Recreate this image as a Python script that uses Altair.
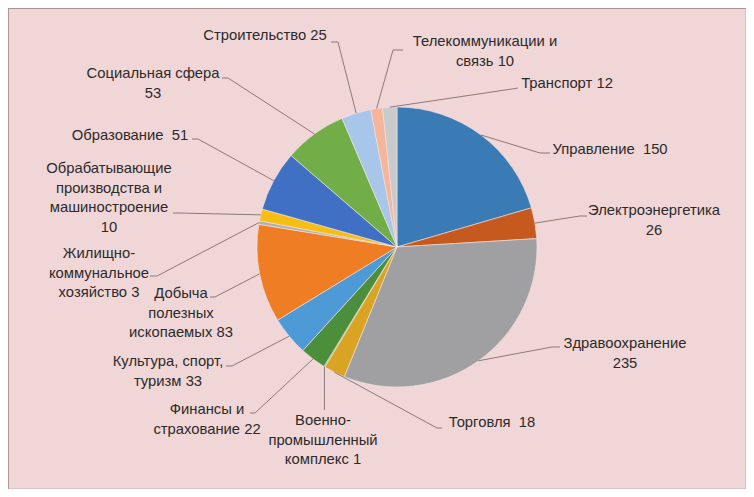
import math
import altair as alt
import pandas as pd

# ---------------- data ----------------
categories = [
    "Управление", "Электроэнергетика", "Здравоохранение", "Торговля",
    "Военно-промышленный комплекс", "Финансы и страхование",
    "Культура, спорт, туризм", "Добыча полезных ископаемых",
    "Жилищно-коммунальное хозяйство", "Обрабатывающие производства и машиностроение",
    "Образование", "Социальная сфера", "Строительство",
    "Телекоммуникации и связь", "Транспорт",
]
values = [150, 26, 235, 18, 1, 22, 33, 83, 3, 10, 51, 53, 25, 10, 12]
label_texts = [
    "Управление\u00a0 150",
    "Электроэнергетика\n26",
    "Здравоохранение\n235",
    "Торговля\u00a0 18",
    "Военно-\nпромышленный\nкомплекс 1",
    "Финансы и\nстрахование 22",
    "Культура, спорт,\nтуризм 33",
    "Добыча\nполезных\nископаемых 83",
    "Жилищно-\nкоммунальное\nхозяйство 3",
    "Обрабатывающие\nпроизводства и\nмашиностроение\n10",
    "Образование\u00a0 51",
    "Социальная сфера\n53",
    "Строительство 25",
    "Телекоммуникации и\nсвязь 10",
    "Транспорт 12",
]

# ---------------- styles / layout ----------------
colors = [
    "#3A7AB5", "#C65A1E", "#A0A0A2", "#D9A324", "#8DB03C", "#4B8F3D",
    "#4E9AD6", "#EE7D24", "#B0B0B0", "#F6BE12", "#4070C4", "#72AE48",
    "#A8C6EA", "#F5B59A", "#C8CACC",
]
CX, CY, R = 397, 247, 140          # pie centre / radius in page pixels
MARGIN = 8
W, H = 738, 481
# label centre x, first-line centre y (page px)
label_x = [610, 654, 625, 492, 323, 207, 168, 181, 99, 109, 130, 153, 265, 485, 567]
label_y = [151, 212, 345, 424, 422, 411, 363, 295, 255, 170, 137, 75, 37, 43, 85]
# leader bend point and end point (page px)
bend_pts = [(540, 153), (580, 216), (552, 347), (437, 428), (None, 410), (255, 413),
            (232, 366), (215, 297), (157, 276), (178, 213), (198, 139), (228, 78),
            (338, 42), (393, 50), (512, 89)]
end_pts = [(550, 153), (587, 216), (560, 347), (442, 428), (None, 410), (250, 413),
           (226, 366), (210, 297), (150, 276), (173, 213), (192, 139), (222, 78),
           (331, 42), (403, 50), (518, 88)]
LINE_H = 19.5
FONT = "Liberation Sans"
FSIZE = 14.8

# ---------------- tables ----------------
pie_df = pd.DataFrame({"cat": categories, "value": values, "idx": list(range(len(values)))})

total = sum(values)
rows = []
cum = 0
for i, (c, v) in enumerate(zip(categories, values)):
    a = (cum + v / 2) / total * 2 * math.pi
    cum += v
    ex, ey = CX + R * math.sin(a), CY - R * math.cos(a)
    bx, by = bend_pts[i]
    tx, ty = end_pts[i]
    if bx is None:
        bx = ex
    if tx is None:
        tx = ex
    for k, (px, py) in enumerate([(ex, ey), (bx, by), (tx, ty)]):
        rows.append({"cat": c, "k": k, "px": px, "py": py})
lead_df = pd.DataFrame(rows)

lab_df = pd.DataFrame({
    "cat": categories,
    "text": label_texts,
    "px": label_x,
    "py": [y - FSIZE * 0.6 for y in label_y],
})

xs = alt.Scale(domain=[MARGIN, MARGIN + W], nice=False, zero=False)
ys = alt.Scale(domain=[MARGIN, MARGIN + H], nice=False, zero=False, reverse=True)

pie = alt.Chart(pie_df).mark_arc(outerRadius=R, stroke="#F4E4E4", strokeWidth=0.6).encode(
    theta=alt.Theta("value:Q", stack=True),
    order=alt.Order("idx:Q", sort="ascending"),
    color=alt.Color("cat:N", scale=alt.Scale(domain=categories, range=colors), legend=None),
    x=alt.value(CX - MARGIN),
    y=alt.value(CY - MARGIN),
)

leaders = alt.Chart(lead_df).mark_line(color="#6E6262", strokeWidth=0.8).encode(
    x=alt.X("px:Q", scale=xs, axis=None),
    y=alt.Y("py:Q", scale=ys, axis=None),
    detail="cat:N",
    order="k:Q",
)

labels = alt.Chart(lab_df).mark_text(
    font=FONT, fontSize=FSIZE, color="#2B2B2B", align="center",
    baseline="top", lineBreak="\n", lineHeight=LINE_H,
).encode(
    x=alt.X("px:Q", scale=xs, axis=None),
    y=alt.Y("py:Q", scale=ys, axis=None),
    text="text:N",
)

chart = alt.layer(pie, leaders, labels).properties(
    width=W, height=H, padding=0, autosize=alt.AutoSizeParams(type="none"),
    background="#F1D6D7",
).configure_view(stroke="#A89293", strokeWidth=1.2)

chart.save("out.html", embed_options={"renderer": "svg", "actions": False})
